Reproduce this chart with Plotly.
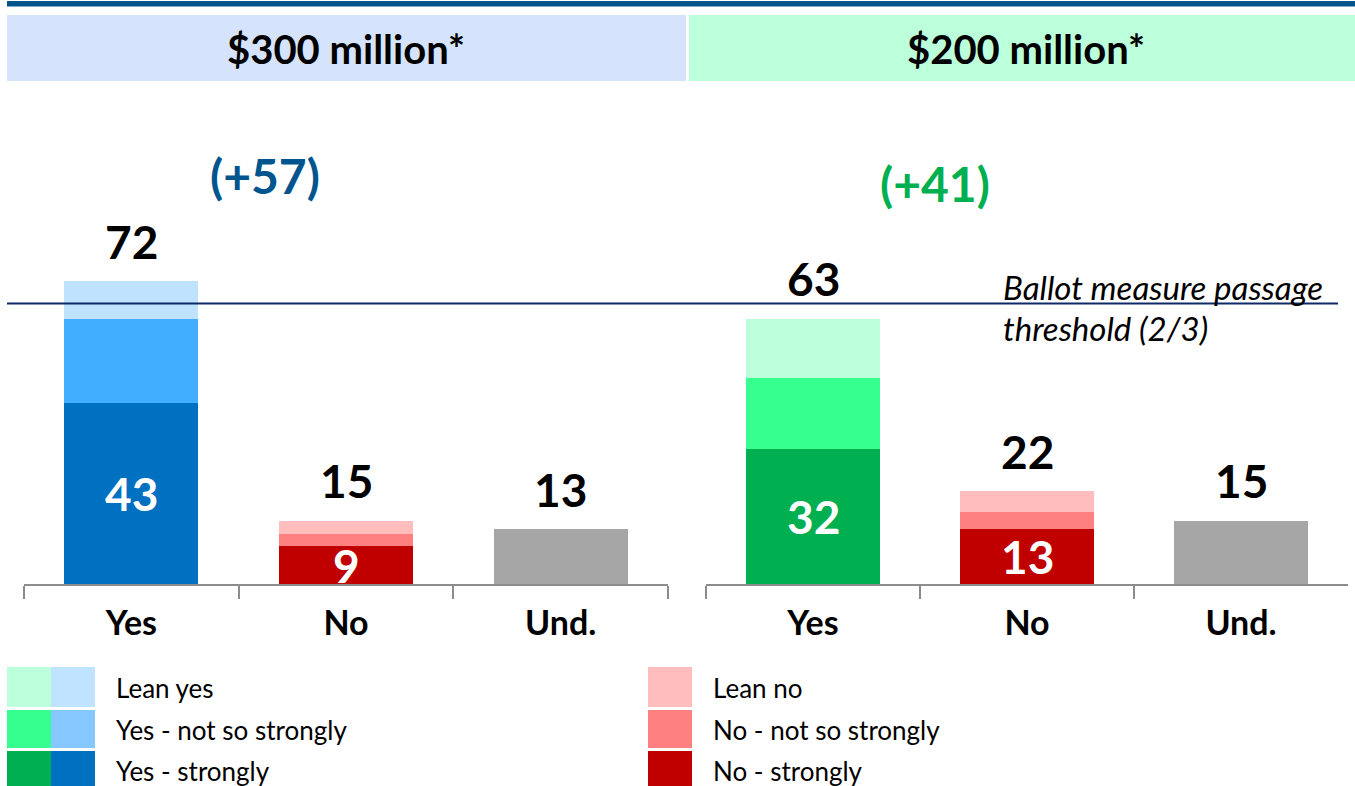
import plotly.graph_objects as go

# ---- data ----
categories = ["Yes", "No", "Und."]
panel_titles = ["$300 million*", "$200 million*"]

# $300 million panel
p300_strong = [43, 9, 13]
p300_not_so = [20, 3, 0]
p300_lean = [9, 3, 0]
p300_totals = [72, 15, 13]

# $200 million panel
p200_strong = [32, 13, 15]
p200_not_so = [17, 4, 0]
p200_lean = [14, 5, 0]
p200_totals = [63, 22, 15]

threshold = 200 / 3  # two-thirds passage threshold, in percent

legend_yes = ["Lean yes", "Yes - not so strongly", "Yes - strongly"]
legend_no = ["Lean no", "No - not so strongly", "No - strongly"]

# ---- colours ----
BLUE = {"strong": "#0070C0", "not_so": "#41AEFF", "lean": "#BFE3FF"}
BLUE_KEY = {"strong": "#0070C0", "not_so": "#85C8FF", "lean": "#C0E4FF"}
GREEN = {"strong": "#00B050", "not_so": "#37FF8F", "lean": "#BBFFDB"}
RED = {"strong": "#C00000", "not_so": "#FF8080", "lean": "#FFBDBD"}
GREY = "#A6A6A6"
FONT = "Lato"

W, H = 1355, 786


def px_x(p):
    return p / W


def px_y(p):
    return 1 - p / H


def note(x, y, text, size, color="black", xanchor="center"):
    fig.add_annotation(x=px_x(x), y=px_y(y), xref="paper", yref="paper",
                       text=text, showarrow=False, xanchor=xanchor,
                       yanchor="middle",
                       font=dict(family=FONT, size=size, color=color))


fig = go.Figure()

panels = [
    ("x", p300_strong, p300_not_so, p300_lean, p300_totals, BLUE),
    ("x2", p200_strong, p200_not_so, p200_lean, p200_totals, GREEN),
]

for xref, strong, not_so, lean, totals, pal in panels:
    strong_cols = [pal["strong"], RED["strong"], GREY]
    not_so_cols = [pal["not_so"], RED["not_so"], GREY]
    lean_cols = [pal["lean"], RED["lean"], GREY]
    for vals, cols in ((strong, strong_cols), (not_so, not_so_cols), (lean, lean_cols)):
        fig.add_trace(go.Bar(
            x=categories, y=vals, xaxis=xref, yaxis="y",
            marker=dict(color=cols, line=dict(width=0)),
            width=0.625, showlegend=False, hoverinfo="skip",
        ))
    # totals above each bar
    for c, t in zip(categories, totals):
        fig.add_annotation(x=c, y=t, xref=xref, yref="y", text=f"<b>{t}</b>",
                           showarrow=False, xanchor="center", yanchor="middle",
                           yshift=40,
                           font=dict(family=FONT, size=46, color="black"))
    # strong values inside the Yes / No bars
    for c, s in zip(categories[:2], strong[:2]):
        fig.add_annotation(x=c, y=s / 2, xref=xref, yref="y", text=f"<b>{s}</b>",
                           showarrow=False, xanchor="center", yanchor="middle",
                           font=dict(family=FONT, size=46, color="white"))

# net margins (Yes minus No)
net300 = p300_totals[0] - p300_totals[1]
net200 = p200_totals[0] - p200_totals[1]
note(265, 175, f"<b>(+{net300})</b>", 48, "#00558F")
note(935, 183, f"<b>(+{net200})</b>", 48, "#00B050")

# passage threshold line and its label
fig.add_shape(type="line", xref="paper", yref="y", x0=px_x(7), x1=px_x(1338),
              y0=threshold, y1=threshold, line=dict(color="#0D2A66", width=2))
note(1001, 287, "<i>Ballot measure passage</i>", 33, xanchor="left")
note(1001, 328, "<i>threshold (2/3)</i>", 33, xanchor="left")

# header rule and panel title bands
fig.add_shape(type="rect", xref="paper", yref="paper", x0=px_x(7), x1=1,
              y0=px_y(6.5), y1=px_y(1), line=dict(width=0), fillcolor="#00558F")
fig.add_shape(type="rect", xref="paper", yref="paper", x0=px_x(7), x1=px_x(686),
              y0=px_y(81), y1=px_y(15), line=dict(width=0), fillcolor="#D5E3FC")
fig.add_shape(type="rect", xref="paper", yref="paper", x0=px_x(689), x1=1,
              y0=px_y(81), y1=px_y(15), line=dict(width=0), fillcolor="#BBFFDB")
for title, cx in zip(panel_titles, (346, 1026)):
    note(cx, 49, f"<b>{title}</b>", 40)

# custom legend: paired green/blue keys for Yes, red keys for No
rows = [(667, 707, 688), (710, 748, 730), (751, 790, 771)]
keys = ["lean", "not_so", "strong"]
for (top, bot, mid), k, ly, ln in zip(rows, keys, legend_yes, legend_no):
    fig.add_shape(type="rect", xref="paper", yref="paper", x0=px_x(7), x1=px_x(51),
                  y0=px_y(bot), y1=px_y(top), line=dict(width=0), fillcolor=GREEN[k])
    fig.add_shape(type="rect", xref="paper", yref="paper", x0=px_x(51), x1=px_x(95),
                  y0=px_y(bot), y1=px_y(top), line=dict(width=0), fillcolor=BLUE_KEY[k])
    fig.add_shape(type="rect", xref="paper", yref="paper", x0=px_x(648), x1=px_x(692),
                  y0=px_y(bot), y1=px_y(top), line=dict(width=0), fillcolor=RED[k])
    note(114, mid, ly, 26, xanchor="left")
    note(711, mid, ln, 26, xanchor="left")

axis_common = dict(
    type="category", categoryorder="array", categoryarray=categories,
    range=[-0.5, 2.5], showline=True, linecolor="#8C8C8C", linewidth=2,
    ticks="outside", tickson="boundaries", ticklen=13, tickcolor="#8C8C8C",
    tickwidth=2, showgrid=False, zeroline=False, anchor="y",
    tickfont=dict(family=FONT, size=34, color="black"),
    ticklabelstandoff=8,
)
y0 = px_y(584)
y1 = px_y(584 - 100 * 4.208)
fig.update_layout(
    width=W, height=H, margin=dict(l=0, r=0, t=0, b=0),
    paper_bgcolor="white", plot_bgcolor="white",
    barmode="stack", bargap=0.375,
    xaxis=dict(domain=[px_x(24), px_x(668)], **axis_common),
    xaxis2=dict(domain=[px_x(706), px_x(1348)], **axis_common),
    yaxis=dict(domain=[y0, y1], range=[0, 100], visible=False, fixedrange=True),
    showlegend=False,
)
fig.update_xaxes(tickprefix="<b>", ticksuffix="</b>")

fig.write_html("out.html")
